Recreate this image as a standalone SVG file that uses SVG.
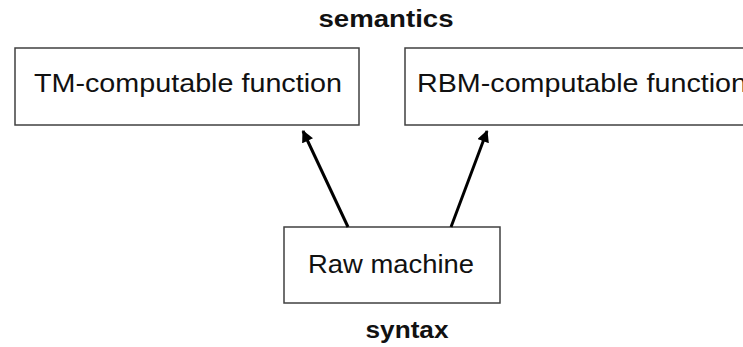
<svg xmlns="http://www.w3.org/2000/svg" width="743" height="347" viewBox="0 0 743 347">
<style>
.box{fill:#fff;stroke:#404040;stroke-width:1.5}
.lbl{font-family:"Liberation Sans",Arial,sans-serif;font-size:26px;fill:#111}
.ttl{font-family:"Liberation Sans",Arial,sans-serif;font-size:23px;font-weight:bold;fill:#111}
.arr{stroke:#000;stroke-width:3;fill:none;marker-end:url(#ah)}
</style>
<defs>
<marker id="ah" viewBox="0 0 10 10" refX="9" refY="5" markerWidth="4.2" markerHeight="4" orient="auto" markerUnits="strokeWidth">
<path d="M0,0 L10,5 L0,10 z" fill="#000"/>
</marker>
</defs>
<rect width="743" height="347" fill="#fff"/>
<text class="ttl" x="386" y="27" text-anchor="middle" textLength="135" lengthAdjust="spacingAndGlyphs">semantics</text>
<text class="ttl" x="407" y="338" text-anchor="middle" textLength="83" lengthAdjust="spacingAndGlyphs">syntax</text>
<g id="tm">
<rect class="box" x="15" y="48" width="344" height="77"/>
<text class="lbl" x="34" y="92" textLength="308" lengthAdjust="spacingAndGlyphs">TM-computable function</text>
</g>
<g id="rbm">
<rect class="box" x="405" y="48" width="360" height="77"/>
<text class="lbl" x="417" y="92" textLength="330" lengthAdjust="spacingAndGlyphs">RBM-computable function</text>
</g>
<g id="raw">
<rect class="box" x="284" y="227" width="216" height="76"/>
<text class="lbl" x="308" y="273" textLength="166" lengthAdjust="spacingAndGlyphs">Raw machine</text>
</g>
<g id="connectors">
<line class="arr" x1="348" y1="227" x2="303" y2="131"/>
<line class="arr" x1="451" y1="227" x2="487" y2="131"/>
</g>
</svg>
